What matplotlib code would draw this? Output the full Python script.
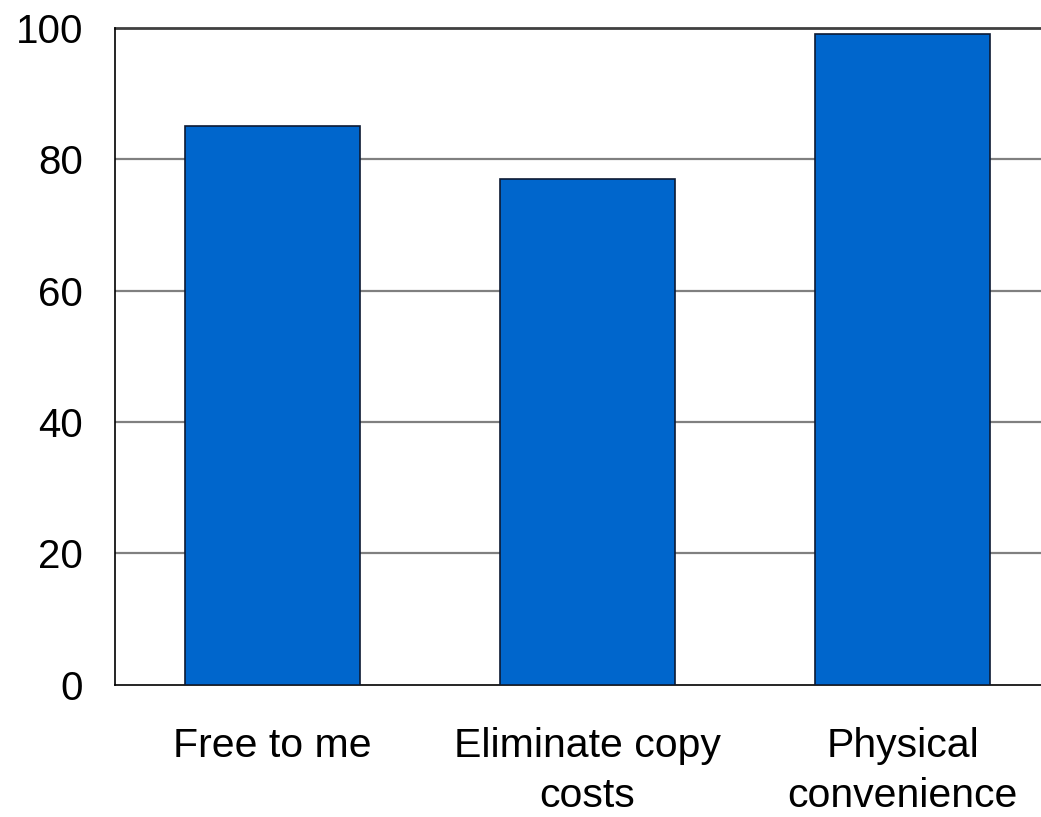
import matplotlib
matplotlib.use("Agg")
import matplotlib.pyplot as plt

# data
categories = ["Free to me", "Eliminate copy\ncosts", "Physical\nconvenience"]
values = [85, 77, 99]
yticks = [0, 20, 40, 60, 80, 100]

plt.rcParams['font.family'] = ['Liberation Sans', 'DejaVu Sans']

fig = plt.figure(figsize=(10.41, 8.17), dpi=100)
ax = fig.add_axes([0.1105, 0.1616, 0.9078, 0.8047])

x = list(range(len(categories)))
ax.bar(x, values, width=0.553, color="#0066cc", edgecolor="#0d1a33",
       linewidth=1.2, zorder=3)

ax.set_xlim(-0.5, 2.5)
ax.set_ylim(0, 100)
ax.set_yticks(yticks)
ax.set_xticks(x)
ax.set_xticklabels(categories, fontsize=29.5, linespacing=1.4)
ax.tick_params(axis="y", length=0, pad=23, labelsize=29)
ax.tick_params(axis="x", length=0, pad=30)

# horizontal grid lines
for t in yticks[1:-1]:
    ax.axhline(t, color="#808080", lw=1.6, zorder=1)
ax.axhline(100, color="#404040", lw=2, zorder=1, clip_on=False)

for s in ["top", "right"]:
    ax.spines[s].set_visible(False)
ax.spines["left"].set_color("black")
ax.spines["bottom"].set_color("black")
ax.spines["left"].set_linewidth(1.2)
ax.spines["bottom"].set_linewidth(1.2)

fig.savefig("out.png", dpi=100)
